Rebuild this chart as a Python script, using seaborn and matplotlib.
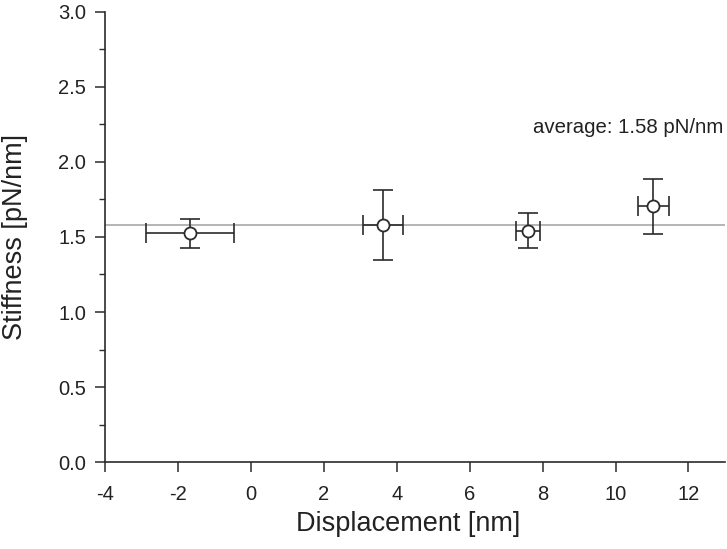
import pandas as pd
import matplotlib.pyplot as plt
import seaborn as sns
from matplotlib.ticker import MultipleLocator

displacement = [-1.67, 3.62, 7.60, 11.04]
stiffness = [1.525, 1.58, 1.54, 1.705]
displacement_err = [1.21, 0.555, 0.34, 0.42]
stiffness_err = [0.097, 0.233, 0.117, 0.183]
average = 1.58

df = pd.DataFrame({'Displacement': displacement, 'Stiffness': stiffness})

sns.set_theme(style='ticks')
plt.rcParams['font.family'] = ['Liberation Sans', 'DejaVu Sans']
plt.rcParams['axes.unicode_minus'] = False

fig = plt.figure(figsize=(7.27, 5.49), dpi=100)
ax = fig.add_axes([0.145, 0.158, 0.852, 0.821])

dark = '#2b2b2b'
ax.axhline(average, color='#a8a8a8', lw=1.2, zorder=1)
ax.errorbar(displacement, stiffness, xerr=displacement_err, yerr=stiffness_err,
            fmt='none', ecolor=dark, elinewidth=1.2, capsize=7, capthick=1.2, zorder=2)
sns.scatterplot(data=df, x='Displacement', y='Stiffness', ax=ax, s=75, marker='o',
                facecolor='white', edgecolor=dark, linewidth=1.3, zorder=3)

ax.text(12.95, 2.23, 'average: 1.58 pN/nm', ha='right', va='center',
        fontsize=14.7, color='#222222')

ax.set_xlim(-4, 13)
ax.set_ylim(0, 3.0)
ax.xaxis.set_major_locator(MultipleLocator(2))
ax.yaxis.set_major_locator(MultipleLocator(0.5))
ax.yaxis.set_minor_locator(MultipleLocator(0.25))
ax.yaxis.set_major_formatter(plt.FormatStrFormatter('%.1f'))

ax.tick_params(axis='both', which='major', direction='out', length=7, width=1.1,
               color=dark, labelsize=14.5, labelcolor='#222222')
ax.tick_params(axis='y', which='minor', direction='out', length=4, width=1.0, color=dark)
ax.tick_params(axis='x', pad=9.5)
ax.tick_params(axis='y', pad=7)

for side in ['top', 'right']:
    ax.spines[side].set_visible(False)
for side in ['left', 'bottom']:
    ax.spines[side].set_color(dark)
    ax.spines[side].set_linewidth(1.2)

ax.set_xlabel('Displacement [nm]', fontsize=19.5, color='#222222')
ax.set_ylabel('Stiffness [pN/nm]', fontsize=19.5, color='#222222')
ax.xaxis.set_label_coords(0.489, -0.108)
ax.yaxis.set_label_coords(-0.125, 0.5)

fig.savefig('out.png', dpi=100)
